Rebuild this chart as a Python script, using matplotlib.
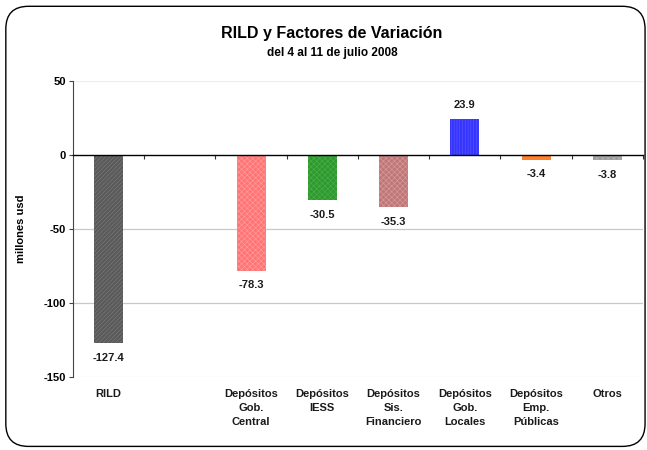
import matplotlib
matplotlib.use("Agg")
import matplotlib.pyplot as plt
from matplotlib.patches import FancyBboxPatch
import matplotlib.transforms as mtransforms

plt.rcParams['font.family'] = ['Liberation Sans', 'DejaVu Sans']

categories = ["RILD", "", "Depósitos\nGob.\nCentral", "Depósitos\nIESS",
              "Depósitos\nSis.\nFinanciero", "Depósitos\nGob.\nLocales",
              "Depósitos\nEmp.\nPúblicas", "Otros"]
values = [-127.4, None, -78.3, -30.5, -35.3, 23.9, -3.4, -3.8]
labels = ["-127.4", "", "-78.3", "-30.5", "-35.3", "23.9", "-3.4", "-3.8"]
colors = ["#5a5a5a", "#ffffff", "#ff7474", "#2e9a2e", "#c07676", "#3535ff", "#ff7f2a", "#9c9c9c"]
hatch_colors = ["#7a7a7a", "#ffffff", "#ff9c9c", "#4aae4a", "#d49c9c", "#5858ff", "#ff7f2a", "#b8b8b8"]
hatches = ["////////", None, "xxxxxx", "xxxxxx", "xxxxxx", "||||||", None, "xxxxxx"]
yticks = [50, 0, -50, -100, -150]

fig = plt.figure(figsize=(6.47, 4.5), dpi=100)
ax = fig.add_axes([0.1128, 0.1629, 0.8810, 0.6578])

# rounded border
border = FancyBboxPatch((0.009, 0.008), 0.988, 0.978, boxstyle="round,pad=0,rounding_size=0.035",
                        transform=fig.transFigure, fill=False, edgecolor="black", linewidth=1.0,
                        mutation_aspect=647/450)
fig.patches.append(border)

x = list(range(len(categories)))
plt.rcParams['hatch.linewidth'] = 0.45
for i, v in enumerate(values):
    if v is None:
        continue
    ax.bar(i, v, width=0.41, color=colors[i], edgecolor=hatch_colors[i],
           hatch=hatches[i], linewidth=0, zorder=3)
    off = 7 if v > 0 else -7
    ax.annotate(labels[i], (i, v), xytext=(0, off), textcoords="offset points",
                ha="center", va="bottom" if v > 0 else "top", fontsize=8,
                fontweight="bold", color="#1a1a1a")

ax.set_xlim(-0.5, len(categories) - 0.5)
ax.set_ylim(-150, 50)
ax.set_yticks(yticks)
ax.set_yticklabels([str(t) for t in yticks], fontsize=8, fontweight="bold")
ax.tick_params(axis="y", direction="out", length=3, width=0.8, pad=2, color="#444444")
for t in yticks:
    if t == 0:
        continue
    ax.axhline(t, color="#c8c8c8" if t in (-50, -100) else "#eeeeee", linewidth=0.9, zorder=1)

for s in ["top", "right"]:
    ax.spines[s].set_visible(False)
ax.spines["left"].set_color("#444444")
ax.spines["left"].set_linewidth(0.8)
ax.spines["bottom"].set_position(("data", 0))
ax.spines["bottom"].set_color("black")
ax.spines["bottom"].set_linewidth(1.0)
ax.spines["bottom"].set_zorder(4)
ax.set_xticks(x)
ax.set_xticklabels([])
ax.tick_params(axis="x", which="major", length=0)
ax.set_xticks([i + 0.5 for i in x], minor=True)
ax.tick_params(axis="x", which="minor", direction="out", length=3, width=0.8, color="#333333")

trans = mtransforms.blended_transform_factory(ax.transData, ax.transAxes)
for i, c in enumerate(categories):
    ax.text(i, -0.04, c, transform=trans, ha="center", va="top", fontsize=8,
            fontweight="bold", linespacing=1.55, color="#1a1a1a")

ax.set_ylabel("millones usd", fontsize=8, fontweight="bold", labelpad=13)

fig.text(0.513, 0.926, "RILD y Factores de Variación", ha="center", va="center",
         fontsize=11.5, fontweight="bold")
fig.text(0.513, 0.882, "del 4 al 11 de julio 2008", ha="center", va="center",
         fontsize=8.5, fontweight="bold")

fig.savefig("out.png", dpi=100)
